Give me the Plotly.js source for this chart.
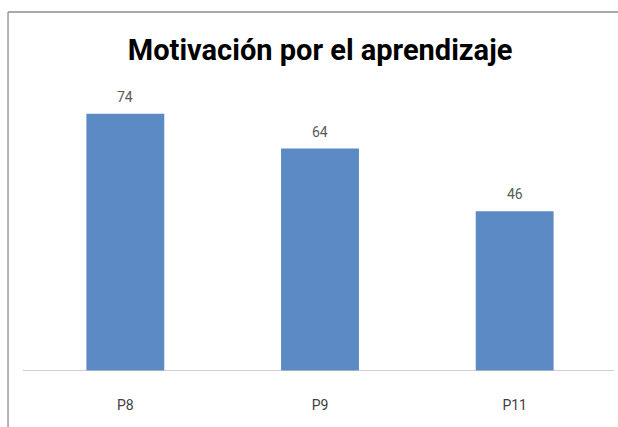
<!DOCTYPE html>
<html><head><meta charset="utf-8">
<script src="https://cdn.plot.ly/plotly-3.0.1.min.js"></script>
<style>html,body{margin:0;padding:0;background:#fff;}#chart{width:618px;height:427px;}</style>
</head><body><div id="chart"></div>
<script>
const categories = ["P8", "P9", "P11"];
const values = [74, 64, 46];
const chartTitle = "Motivación por el aprendizaje";

const trace = {
  type: "bar",
  x: categories,
  y: values,
  marker: {color: "#5B8AC5", line: {width: 0}},
  hoverinfo: "none"
};

const labelFont = {family: "Liberation Sans Narrow, Roboto, sans-serif", size: 14, color: "#595959"};
const annotations = categories.map((c, i) => ({
  x: c, y: values[i], xref: "x", yref: "y", text: String(values[i]),
  showarrow: false, yanchor: "middle", yshift: 17, font: labelFont
}));

const layout = {
  width: 618, height: 427,
  margin: {l: 28, r: 6, t: 93, b: 56},
  paper_bgcolor: "#fff", plot_bgcolor: "#fff",
  showlegend: false,
  bargap: 0.6,
  title: {text: "<b>" + chartTitle + "</b>", x: 0.518, xanchor: "center", y: 0.883, yanchor: "middle",
          font: {family: "Liberation Sans Narrow, Roboto, sans-serif", size: 29, color: "#000"}},
  xaxis: {showgrid: false, zeroline: false, showline: false, ticks: "", ticklabelstandoff: 24,
          tickfont: {family: "Liberation Sans Narrow, Roboto, sans-serif", size: 14, color: "#404040"}},
  yaxis: {range: [0, 80], visible: false, showgrid: false, zeroline: false},
  annotations: annotations,
  shapes: [
    {type: "line", xref: "paper", yref: "y", x0: -0.0086, x1: 1.0034, y0: 0, y1: 0, line: {color: "#BFBFBF", width: 1.3}},
    {type: "line", xref: "paper", yref: "paper", x0: -0.0342, x1: -0.0342, y0: -0.21, y1: 1.2914, line: {color: "#8C8C8C", width: 1.3}},
    {type: "line", xref: "paper", yref: "paper", x0: -0.0342, x1: 1.02, y0: 1.2914, y1: 1.2914, line: {color: "#8C8C8C", width: 1.3}}
  ]
};

Plotly.newPlot("chart", [trace], layout, {staticPlot: true, displayModeBar: false});
</script></body></html>
